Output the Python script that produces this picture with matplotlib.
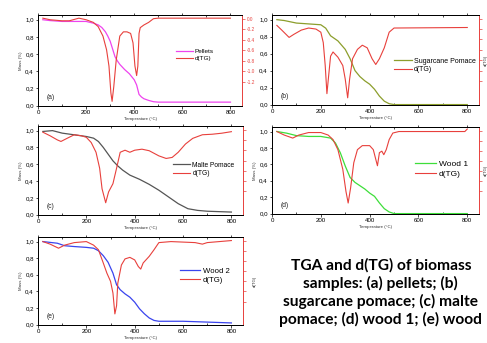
import matplotlib
matplotlib.use("Agg")
import matplotlib.pyplot as plt

plt.rcParams["font.family"] = ["Liberation Sans", "DejaVu Sans"]

DTG_COLOR = "#e8403c"

# temperature grid (°C) and curves; d(TG) is in right-axis units
PELLETS_T = [20, 50, 100, 150, 200, 230, 250, 265, 280, 290, 300, 310, 320, 330, 340,
             360, 380, 400, 410, 420, 430, 440, 460, 480, 500, 600, 700, 800]
PELLETS_MASS = [1.0, 0.99, 0.98, 0.98, 0.98, 0.96, 0.94, 0.91, 0.86, 0.81, 0.75, 0.66, 0.57,
                0.52, 0.48, 0.42, 0.37, 0.30, 0.24, 0.13, 0.10, 0.08, 0.06, 0.045, 0.04, 0.04,
                0.04, 0.04]
PELLETS_DTG_T = [20, 50, 100, 130, 170, 200, 230, 250, 270, 285, 295, 303, 308, 315, 325, 340,
                 355, 370, 385, 395, 403, 410, 415, 420, 425, 440, 460, 480, 500, 800]
PELLETS_DTG = [0.01, -0.02, -0.04, -0.04, 0.01, -0.02, -0.07, -0.15, -0.33, -0.59, -0.90,
               -1.41, -1.57, -1.29, -0.79, -0.33, -0.25, -0.25, -0.28, -0.46, -0.90, -1.08,
               -0.90, -0.28, -0.17, -0.12, -0.07, 0.0, 0.01, 0.01]

SUGAR_T = [20, 50, 100, 150, 200, 220, 240, 270, 300, 320, 340, 360, 380, 400, 420, 440, 460,
           480, 500, 600, 800]
SUGAR_MASS = [1.0, 0.99, 0.96, 0.95, 0.94, 0.90, 0.81, 0.75, 0.65, 0.54, 0.40, 0.33, 0.28,
              0.24, 0.18, 0.10, 0.04, 0.01, 0.0, 0.0, 0.0]
SUGAR_DTG_T = [20, 40, 70, 90, 120, 150, 180, 200, 210, 218, 225, 232, 240, 250, 270, 290, 300,
               310, 318, 330, 350, 370, 390, 410, 425, 440, 460, 480, 500, 800]
SUGAR_DTG = [-0.13, -0.22, -0.36, -0.30, -0.22, -0.18, -0.20, -0.26, -0.46, -0.90, -1.44,
             -1.10, -0.72, -0.64, -0.74, -0.90, -1.16, -1.52, -1.16, -0.77, -0.59, -0.51,
             -0.56, -0.77, -0.88, -0.77, -0.56, -0.26, -0.18, -0.17]

MALTE_T = [20, 60, 100, 150, 200, 230, 250, 270, 290, 310, 330, 350, 380, 420, 460, 500, 540,
           580, 620, 660, 700, 800]
MALTE_MASS = [0.99, 1.0, 0.97, 0.95, 0.93, 0.91, 0.87, 0.80, 0.72, 0.64, 0.58, 0.53, 0.47,
              0.42, 0.36, 0.29, 0.21, 0.13, 0.07, 0.05, 0.04, 0.03]
MALTE_DTG_T = [20, 50, 80, 95, 120, 150, 180, 200, 220, 240, 255, 265, 280, 292, 310, 325, 340,
               360, 380, 400, 430, 460, 500, 530, 555, 580, 610, 640, 680, 720, 760, 800]
MALTE_DTG = [-0.05, -0.12, -0.20, -0.23, -0.17, -0.10, -0.12, -0.15, -0.25, -0.44, -0.75,
             -1.15, -1.42, -1.21, -1.05, -0.75, -0.44, -0.40, -0.44, -0.40, -0.38, -0.41,
             -0.51, -0.56, -0.54, -0.44, -0.28, -0.17, -0.10, -0.09, -0.07, -0.04]

WOOD1_T = [20, 60, 100, 150, 200, 240, 260, 280, 300, 320, 340, 360, 380, 400, 420, 440, 460,
           480, 500, 600, 800]
WOOD1_MASS = [1.0, 0.98, 0.95, 0.94, 0.94, 0.92, 0.86, 0.74, 0.58, 0.44, 0.38, 0.34, 0.30,
              0.25, 0.21, 0.13, 0.06, 0.02, 0.0, 0.0, 0.0]
WOOD1_DTG_T = [20, 50, 85, 110, 150, 200, 230, 250, 270, 290, 303, 312, 322, 335, 350, 370,
               400, 415, 425, 432, 440, 450, 458, 468, 480, 495, 520, 790, 800]
WOOD1_DTG = [-0.02, -0.09, -0.15, -0.09, -0.04, -0.04, -0.09, -0.18, -0.38, -0.77, -1.21,
             -1.44, -1.14, -0.64, -0.38, -0.30, -0.30, -0.38, -0.57, -0.70, -0.44, -0.41,
             -0.48, -0.38, -0.18, -0.05, -0.02, -0.02, 0.03]

WOOD2_T = [20, 50, 80, 110, 150, 200, 230, 250, 270, 290, 310, 325, 340, 360, 380, 400, 420,
           440, 460, 480, 500, 600, 700, 800]
WOOD2_MASS = [1.0, 0.99, 0.98, 0.95, 0.94, 0.93, 0.92, 0.89, 0.83, 0.75, 0.62, 0.48, 0.42,
              0.37, 0.33, 0.27, 0.19, 0.13, 0.08, 0.05, 0.04, 0.04, 0.03, 0.02]
WOOD2_DTG_T = [20, 50, 85, 110, 150, 200, 230, 250, 270, 285, 300, 310, 318, 325, 330, 345,
               360, 380, 400, 415, 425, 435, 460, 480, 500, 550, 650, 680, 700, 800]
WOOD2_DTG = [-0.02, -0.07, -0.15, -0.09, -0.04, -0.02, -0.09, -0.18, -0.44, -0.64, -0.80,
             -1.03, -1.44, -1.28, -0.84, -0.48, -0.36, -0.33, -0.38, -0.51, -0.56, -0.44,
             -0.31, -0.18, -0.04, -0.02, -0.04, -0.07, -0.04, 0.0]

MASS_TICKS = [0.0, 0.2, 0.4, 0.6, 0.8, 1.0]
MASS_TICK_LABELS = ["0,0", "0,2", "0,4", "0,6", "0,8", "1,0"]
DTG_TICKS = [0.0, -0.2, -0.4, -0.6, -0.8, -1.0, -1.2]
DTG_TICK_LABELS = ["0.0", "-0.2", "-0.4", "-0.6", "-0.8", "-1.0", "-1.2"]
TEMP_TICKS = [0, 200, 400, 600, 800]

CAPTION = ("TGA and d(TG) of biomass\nsamples: (a) pellets; (b)\n"
           "sugarcane pomace; (c) malte\npomace; (d) wood 1; (e) wood")

# one entry per panel: curves, colour, tag, axes rect (pixels), legend anchor, font size
PANELS = [
    (PELLETS_T, PELLETS_MASS, PELLETS_DTG_T, PELLETS_DTG, "Pellets", "#ee44ee", "(a)",
     (38, 15, 242, 106), (0.676, 0.56), 4.6),
    (SUGAR_T, SUGAR_MASS, SUGAR_DTG_T, SUGAR_DTG, "Sugarcane Pomace", "#8c9e2c", "(b)",
     (272, 15, 479, 105), (0.589, 0.44), 5.0),
    (MALTE_T, MALTE_MASS, MALTE_DTG_T, MALTE_DTG, "Malte Pomace", "#555555", "(c)",
     (38, 126, 243, 215), (0.659, 0.51), 4.8),
    (WOOD1_T, WOOD1_MASS, WOOD1_DTG_T, WOOD1_DTG, "Wood 1", "#3ede3a", "(d)",
     (272, 127, 479, 214), (0.69, 0.52), 6.0),
    (WOOD2_T, WOOD2_MASS, WOOD2_DTG_T, WOOD2_DTG, "Wood 2", "#3a44ee", "(e)",
     (38, 237, 243, 325), (0.693, 0.56), 5.6),
]

W, H = 487, 343
fig = plt.figure(figsize=(W / 100, H / 100), dpi=100)

for i, (t, mass, dt, dtg, name, color, tag, box, leg_at, leg_fs) in enumerate(PANELS):
    x0, y0, x1, y1 = box
    ax = fig.add_axes([x0 / W, 1 - y1 / H, (x1 - x0) / W, (y1 - y0) / H])
    ax2 = ax.twinx()
    l1, = ax.plot(t, mass, color=color, lw=0.9)
    l2, = ax2.plot(dt, dtg, color=DTG_COLOR, lw=0.8)

    ax.set_xlim(0, 848)
    ax.set_ylim(-0.005, 1.055)
    ax2.set_ylim(-1.658, 0.07)

    ax.set_xticks(TEMP_TICKS)
    ax.set_xticks([100, 300, 500, 700], minor=True)
    ax.set_yticks(MASS_TICKS)
    ax.set_yticklabels(MASS_TICK_LABELS)
    ax.tick_params(labelsize=4.4, length=1.8, width=0.5, pad=1.2, direction="out")
    ax.tick_params(axis="x", which="both", top=True)
    ax.tick_params(axis="x", which="minor", length=1.2, width=0.5, direction="in")
    ax.set_xlabel("Temperature (°C)", fontsize=3.2, labelpad=1.5, color="#333333")
    if i != 1:
        ax.set_ylabel("Mass (%)", fontsize=3.2, labelpad=1.5, color="#333333")

    ax2.set_yticks(DTG_TICKS)
    if i == 0:
        ax2.set_yticklabels(DTG_TICK_LABELS)
    else:
        ax2.set_yticklabels([])
    ax2.tick_params(axis="y", colors=DTG_COLOR, labelsize=3.4, length=1.8, width=0.5,
                    pad=1.5)
    ax2.spines["right"].set_color(DTG_COLOR)
    if i in (1, 3):
        ax2.set_ylabel("d(TG)", fontsize=3.2, labelpad=0.5, color="#333333")
    elif i == 4:
        ax2.set_ylabel("d(TG)", fontsize=3.2, labelpad=4, color="#333333")

    for side in ("left", "bottom", "top"):
        ax.spines[side].set_linewidth(0.7)
        ax2.spines[side].set_linewidth(0.7)
    ax2.spines["right"].set_linewidth(0.7)
    ax.spines["right"].set_visible(False)

    ax.text(0.04, 0.08, tag, transform=ax.transAxes, fontsize=4.8, color="#222222")
    ax2.legend([l1, l2], [name, "d(TG)"], loc="center left", bbox_to_anchor=leg_at,
               frameon=False, fontsize=leg_fs, handlelength=2.6, handletextpad=0.3,
               labelspacing=0.25, borderpad=0, borderaxespad=0)

fig.text(0.782, 0.146, CAPTION, ha="center", va="center", fontsize=11.2,
         fontweight="bold", family=["Lato", "DejaVu Sans"], linespacing=1.25)

fig.savefig("out.png", dpi=100)
